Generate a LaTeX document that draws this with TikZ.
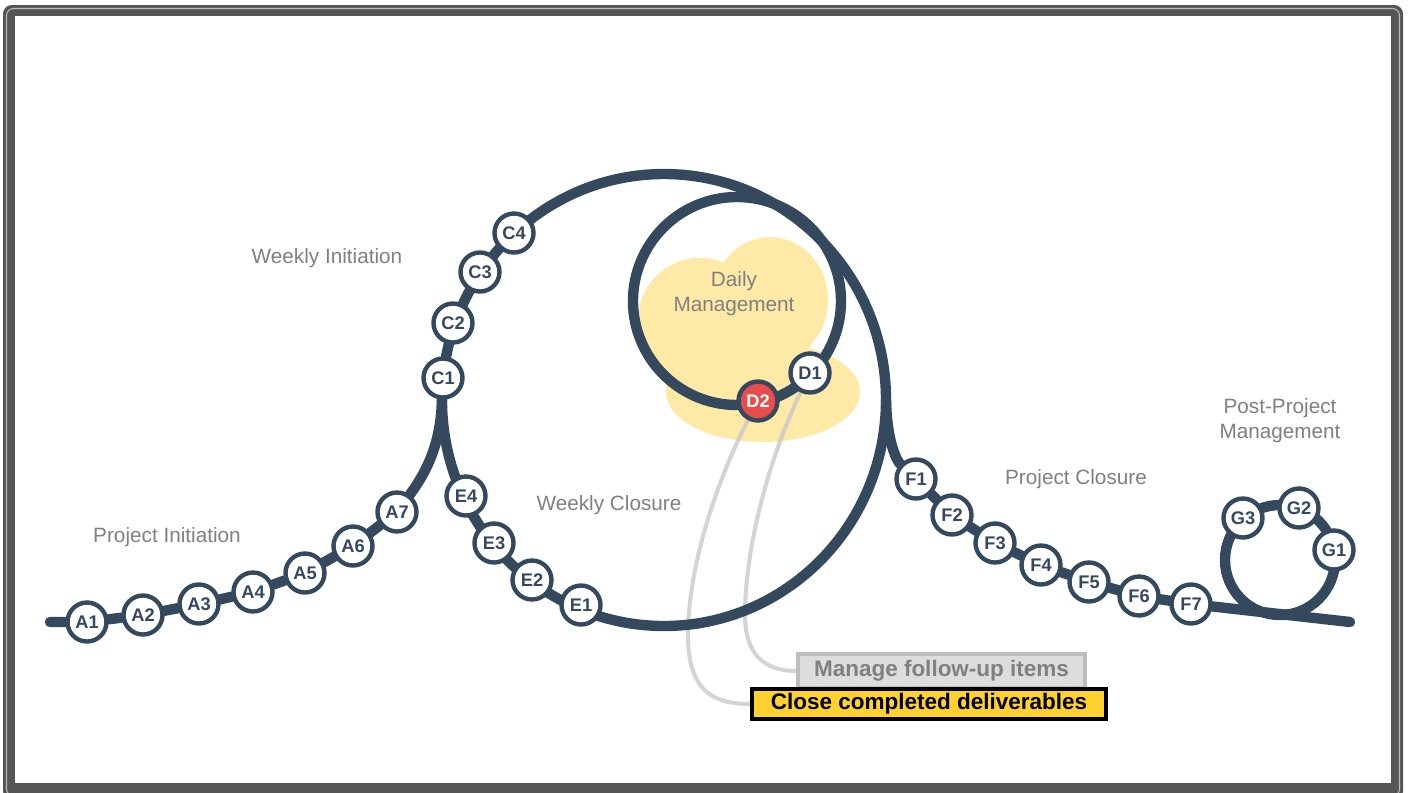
\documentclass[tikz,border=0pt]{standalone}
\usepackage{fontspec}
\setmainfont{Liberation Sans}
\usepackage{xcolor}
\usepackage{tikz}
\usetikzlibrary{backgrounds}

\definecolor{trackblue}{HTML}{34495E}
\definecolor{labelgray}{HTML}{808080}
\definecolor{cloudyellow}{HTML}{FFE9A6}
\definecolor{stopred}{HTML}{E84C4C}
\definecolor{boxyellow}{HTML}{FFD12E}
\definecolor{boxgray}{HTML}{DDDDDD}
\definecolor{boxborder}{HTML}{BDBDBD}
\definecolor{framegray}{HTML}{555555}

\begin{document}
\begin{tikzpicture}[x=0.02cm, y=-0.02cm,
  stop/.style={circle, draw=trackblue, line width=2.5pt, fill=white, minimum size=22.2pt, inner sep=0pt, text=trackblue, font=\fontsize{10.4}{11}\selectfont\bfseries},
  track/.style={draw=trackblue, line width=5.9pt, line cap=round},
  phase/.style={text=labelgray, align=center, font=\fontsize{11.8}{14.2}\selectfont},
  link/.style={draw=gray!45, line width=2.3pt, opacity=0.75}]
  \useasboundingbox (0,0) rectangle (1410,792);

  % Project Initiation stops
  \node[stop] (a1_node) at (87,622) {A1};
  \node[stop] (a2_node) at (143,615) {A2};
  \node[stop] (a3_node) at (199,604) {A3};
  \node[stop] (a4_node) at (253,592) {A4};
  \node[stop] (a5_node) at (305,573) {A5};
  \node[stop] (a6_node) at (353,546) {A6};
  \node[stop] (a7_node) at (397,512) {A7};
  \node[phase] at (167,537) {Project Initiation};

  % Weekly Initiation stops (left side of the big loop)
  \node[stop] (c1_node) at (443,378) {C1};
  \node[stop] (c2_node) at (453,323) {C2};
  \node[stop] (c3_node) at (480,272) {C3};
  \node[stop] (c4_node) at (514,233) {C4};
  \node[phase] at (327,258) {Weekly Initiation};

  % Weekly Closure stops (bottom of the big loop)
  \node[stop] (e4_node) at (466,496) {E4};
  \node[stop] (e3_node) at (494,543) {E3};
  \node[stop] (e2_node) at (532,580) {E2};
  \node[stop] (e1_node) at (581,605) {E1};
  \node[phase] at (609,505) {Weekly Closure};

  % Daily Management loop
  \node[phase] at (734,294) {Daily\\Management};
  \node[stop, fill=stopred, text=white] (d2_node) at (758,401) {D2};
  \node[stop] (d1_node) at (810,373) {D1};

  % Project Closure stops
  \node[stop] (f1_node) at (916,479) {F1};
  \node[stop] (f2_node) at (952,515) {F2};
  \node[stop] (f3_node) at (995,543) {F3};
  \node[stop] (f4_node) at (1041,565) {F4};
  \node[stop] (f5_node) at (1089,582) {F5};
  \node[stop] (f6_node) at (1139,596) {F6};
  \node[stop] (f7_node) at (1191,604) {F7};
  \node[phase] at (1076,479) {Project Closure};

  % Post-Project loop
  \node[stop] (g1_node) at (1334,550) {G1};
  \node[stop] (g2_node) at (1299,508) {G2};
  \node[stop] (g3_node) at (1243,518) {G3};
  \node[phase] at (1280,421) {Post-Project\\Management};

  % Callout boxes
  \node[draw=boxborder, fill=boxgray, line width=2.3pt, minimum width=163pt, minimum height=19pt, inner sep=0pt, text=labelgray, font=\fontsize{12.8}{14}\selectfont\bfseries] (follow_box) at (941.5,671) {Manage follow-up items};
  \node[draw=black, fill=boxyellow, line width=2.3pt, minimum width=201.4pt, minimum height=17.5pt, inner sep=0pt, font=\fontsize{12.8}{14}\selectfont\bfseries] (close_box) at (929,704) {Close completed deliverables};

  \begin{scope}[on background layer]
    % Frame
    \fill[framegray, rounded corners=5pt] (3,5) rectangle (1403,800);
    \draw[gray!55, line width=0.6pt, rounded corners=4pt] (6.5,8.5) rectangle (1399.5,796);
    \fill[white] (15,16) rectangle (1391,783);

    % Cloud behind the daily loop
    \fill[cloudyellow] (700,320) ellipse [x radius=62, y radius=62];
    \fill[cloudyellow] (770,300) ellipse [x radius=58, y radius=63];
    \fill[cloudyellow] (763,392) ellipse [x radius=97, y radius=50];

    % Callout links
    \draw[link] (d2_node) .. controls (722,470) and (688,560) .. (688,635) .. controls (688,690) and (712,704) .. (close_box.west);
    \draw[link] (d1_node) .. controls (768,460) and (745,550) .. (745,615) .. controls (745,655) and (765,671) .. (follow_box.west);

    % Track
    \draw[track] (50,622) -- (a1_node) -- (a2_node) -- (a3_node) -- (a4_node) -- (a5_node) -- (a6_node) -- (a7_node);
    \draw[track] (a7_node) .. controls (428,470) and (442,440) .. (442,395);
    \draw[track] (664,400) ellipse [x radius=222, y radius=226];
    \draw[track] (737,301) ellipse [x radius=104, y radius=104];
    \draw[track] (886,400) .. controls (887,445) and (898,462) .. (f1_node) -- (f2_node) -- (f3_node) -- (f4_node) -- (f5_node) -- (f6_node) -- (f7_node) -- (1350,622);
    \draw[track] (1280,560) ellipse [x radius=55, y radius=55];
  \end{scope}
\end{tikzpicture}
\end{document}
